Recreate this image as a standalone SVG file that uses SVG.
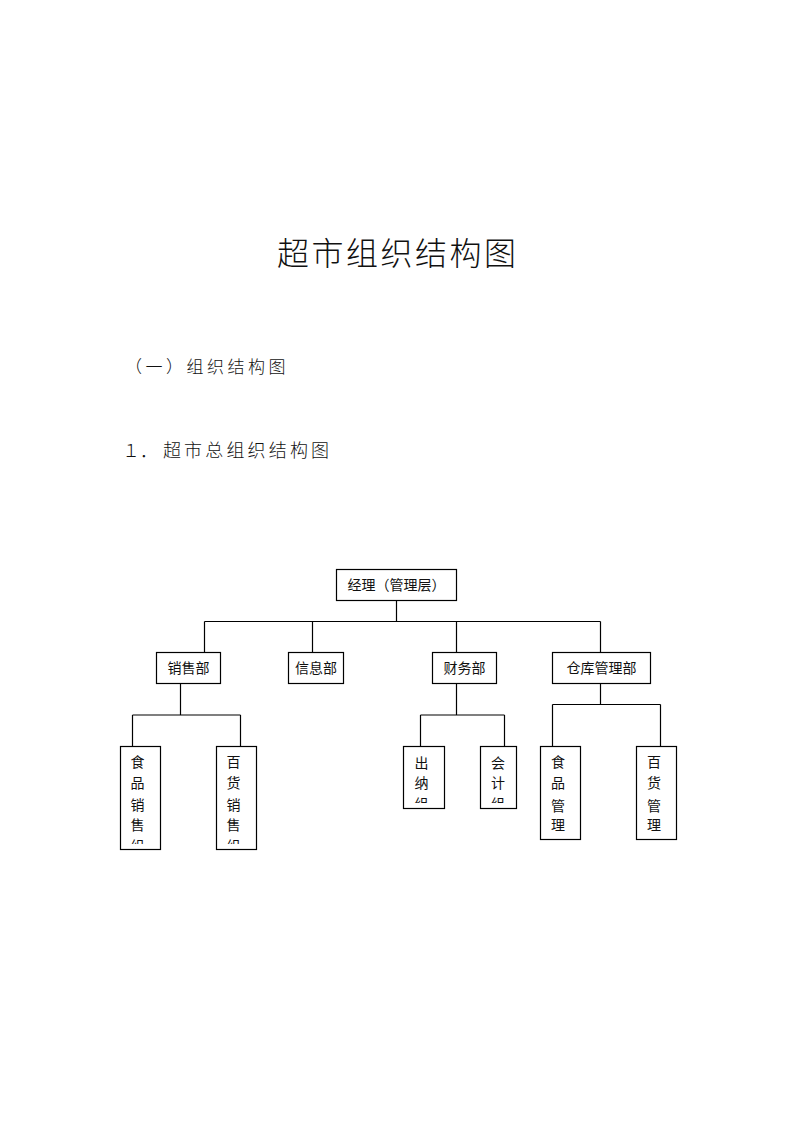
<svg xmlns="http://www.w3.org/2000/svg" width="793" height="1122" viewBox="0 0 793 1122">
<style>
.t{font-family:"Noto Sans CJK SC","Liberation Serif",serif;fill:#111}
.box{fill:#fff;stroke:#000;stroke-width:1.2}
.ln{fill:none;stroke:#000;stroke-width:1.2}
.n{font-size:14px;text-anchor:middle}
</style>
<defs>
<clipPath id="c1"><rect x="100" y="740" width="180" height="104"/></clipPath>
<clipPath id="c2"><rect x="395" y="740" width="130" height="63"/></clipPath>
</defs>
<rect width="793" height="1122" fill="#fff"/>
<text class="t" x="277" y="265" font-size="32" letter-spacing="2.5" font-weight="300">超市组织结构图</text>
<text class="t" x="125" y="372.5" font-size="17" letter-spacing="3.5" font-weight="300">（一）组织结构图</text>
<text class="t" y="457" font-size="18" font-weight="300" x="122 140 163 184.1 205.3 226.4 247.6 268.7 289.9 311">１．超市总组织结构图</text>
<g id="connectors">
<path class="ln" d="M396.5 600.5V621.5M204.5 621.5H600.5M204.5 621.5V652.5M312.5 621.5V652.5M456.5 621.5V652.5M600.5 621.5V652.5"/>
<path class="ln" d="M180.5 683.5V715M132.5 715H240.5M132.5 715V746.5M240.5 715V746.5"/>
<path class="ln" d="M456.5 683.5V715M420.5 715H504.5M420.5 715V746.5M504.5 715V746.5"/>
<path class="ln" d="M600.5 683.5V704.5M552.5 704.5H660.5M552.5 704.5V746.5M660.5 704.5V746.5"/>
</g>
<g id="manager"><rect class="box" x="336.5" y="569.5" width="120" height="31"/><text class="t n" x="396.5" y="590">经理（管理层）</text></g>
<g id="sales"><rect class="box" x="156.5" y="652.5" width="64" height="31"/><text class="t n" x="188.5" y="673">销售部</text></g>
<g id="info"><rect class="box" x="288.5" y="652.5" width="55" height="31"/><text class="t n" x="316" y="673">信息部</text></g>
<g id="finance"><rect class="box" x="432.5" y="652.5" width="64" height="31"/><text class="t n" x="464.5" y="673">财务部</text></g>
<g id="warehouse"><rect class="box" x="552.5" y="652.5" width="98" height="31"/><text class="t n" x="601.5" y="673">仓库管理部</text></g>
<g id="food-sales"><rect class="box" x="120.5" y="746.5" width="40" height="103"/>
<g clip-path="url(#c1)" class="t n"><text x="137.5" y="767">食</text><text x="137.5" y="788">品</text><text x="137.5" y="809.5">销</text><text x="137.5" y="830">售</text><text x="137.5" y="851">组</text></g></g>
<g id="goods-sales"><rect class="box" x="216.5" y="746.5" width="40" height="103"/>
<g clip-path="url(#c1)" class="t n"><text x="233.5" y="767">百</text><text x="233.5" y="788">货</text><text x="233.5" y="809.5">销</text><text x="233.5" y="830">售</text><text x="233.5" y="851">组</text></g></g>
<g id="cashier"><rect class="box" x="403.5" y="746.5" width="41" height="62"/>
<g clip-path="url(#c2)" class="t n"><text x="421.5" y="767.5">出</text><text x="421.5" y="788">纳</text><text x="421.5" y="809">组</text></g></g>
<g id="accounting"><rect class="box" x="480.5" y="746.5" width="36" height="62"/>
<g clip-path="url(#c2)" class="t n"><text x="498" y="767.5">会</text><text x="498" y="788">计</text><text x="498" y="809">组</text></g></g>
<g id="food-mgmt"><rect class="box" x="540.5" y="746.5" width="40" height="93"/>
<g class="t n"><text x="558" y="767">食</text><text x="558" y="788">品</text><text x="558" y="810.5">管</text><text x="558" y="830">理</text></g></g>
<g id="goods-mgmt"><rect class="box" x="636.5" y="746.5" width="40" height="93"/>
<g class="t n"><text x="654" y="767">百</text><text x="654" y="788">货</text><text x="654" y="810.5">管</text><text x="654" y="830">理</text></g></g>
</svg>
